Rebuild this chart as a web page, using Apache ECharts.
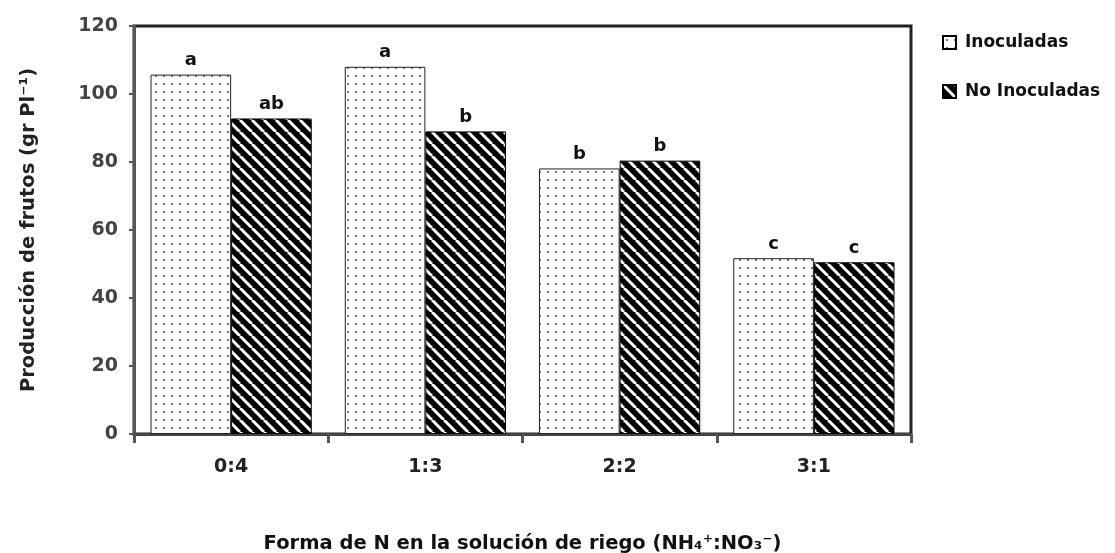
<!DOCTYPE html>
<html>
<head>
<meta charset="utf-8">
<script src="https://cdn.jsdelivr.net/npm/echarts@6/dist/echarts.min.js"></script>
<style>html,body{margin:0;padding:0;background:#fff}#c{width:1115px;height:553px}</style>
</head>
<body>
<div id="c"></div>
<script>
const categories = ['0:4', '1:3', '2:2', '3:1'];
const inoculadas = [105.7, 108, 78.1, 51.7];
const noInoculadas = [92.8, 89, 80.4, 50.5];
const lettersInoc = ['a', 'a', 'b', 'c'];
const lettersNo = ['ab', 'b', 'b', 'c'];
const seriesNames = ['Inoculadas', 'No Inoculadas'];
const yTicks = [0, 20, 40, 60, 80, 100, 120];

function dotPattern() {
  const c = document.createElement('canvas');
  c.width = 8; c.height = 8;
  const g = c.getContext('2d');
  g.fillStyle = '#fff'; g.fillRect(0, 0, 8, 8);
  g.fillStyle = '#7a7a7a'; g.fillRect(3, 3, 2, 2);
  return c;
}
function hatchPattern() {
  const s = 12;
  const c = document.createElement('canvas');
  c.width = s; c.height = s;
  const g = c.getContext('2d');
  g.fillStyle = '#000'; g.fillRect(0, 0, s, s);
  g.strokeStyle = '#fff'; g.lineWidth = 3;
  for (let k = -1; k <= 1; k++) {
    g.beginPath(); g.moveTo(k * s, 0); g.lineTo(k * s + s, s); g.stroke();
  }
  return c;
}

const FONT = '"DejaVu Sans", "Liberation Sans", sans-serif';
const chart = echarts.init(document.getElementById('c'), null, {renderer: 'canvas'});
chart.setOption({
  animation: false,
  backgroundColor: '#fff',
  grid: {left: 134, top: 26, right: 204, bottom: 119, outerBoundsMode: 'none', containLabel: false,
    show: true, borderColor: '#222', borderWidth: 3, backgroundColor: 'transparent'},
  legend: {
    orient: 'vertical', left: 937, top: 29, itemWidth: 13, itemHeight: 13, itemGap: 32,
    icon: 'rect',
    data: seriesNames,
    textStyle: {fontFamily: FONT, fontWeight: 'bold', fontSize: 17, color: '#111', padding: [0, 0, 0, 4]},
    itemStyle: {borderColor: '#000', borderWidth: 2}
  },
  xAxis: {
    type: 'category', data: categories,
    name: 'Forma de N en la solución de riego (NH₄⁺:NO₃⁻)',
    nameLocation: 'middle', nameGap: 100,
    nameTextStyle: {fontFamily: FONT, fontWeight: 'bold', fontSize: 19.5, color: '#111'},
    axisLine: {lineStyle: {color: '#444', width: 3}},
    axisTick: {show: true, length: 9, lineStyle: {color: '#555', width: 3}},
    axisLabel: {margin: 24, fontFamily: FONT, fontWeight: 'bold', fontSize: 19, color: '#222'}
  },
  yAxis: {
    type: 'value', min: 0, max: 120, interval: 20,
    name: 'Producción de frutos (gr Pl⁻¹)',
    nameLocation: 'middle', nameGap: 95, nameRotate: 90,
    nameTextStyle: {fontFamily: FONT, fontWeight: 'bold', fontSize: 19.5, color: '#222'},
    axisLine: {show: true, lineStyle: {color: '#555', width: 3}},
    axisTick: {show: true, length: 5, lineStyle: {color: '#555', width: 2}},
    splitLine: {show: false},
    axisLabel: {margin: 16, fontFamily: FONT, fontWeight: 'bold', fontSize: 19, color: '#444',
      formatter: v => yTicks.includes(v) ? String(v) : ''}
  },
  series: [
    {
      name: seriesNames[0], type: 'bar', data: inoculadas,
      barGap: '0%', barCategoryGap: '17%',
      itemStyle: {color: {image: dotPattern(), repeat: 'repeat'}, borderColor: '#222', borderWidth: 1},
      label: {show: true, position: 'top', distance: 5, formatter: p => lettersInoc[p.dataIndex],
        fontFamily: FONT, fontWeight: 'bold', fontSize: 18, color: '#111'}
    },
    {
      name: seriesNames[1], type: 'bar', data: noInoculadas,
      barGap: '0%', barCategoryGap: '17%',
      itemStyle: {color: {image: hatchPattern(), repeat: 'repeat'}, borderColor: '#000', borderWidth: 1},
      label: {show: true, position: 'top', distance: 5, formatter: p => lettersNo[p.dataIndex],
        fontFamily: FONT, fontWeight: 'bold', fontSize: 18, color: '#111'}
    }
  ]
});
</script>
</body>
</html>
